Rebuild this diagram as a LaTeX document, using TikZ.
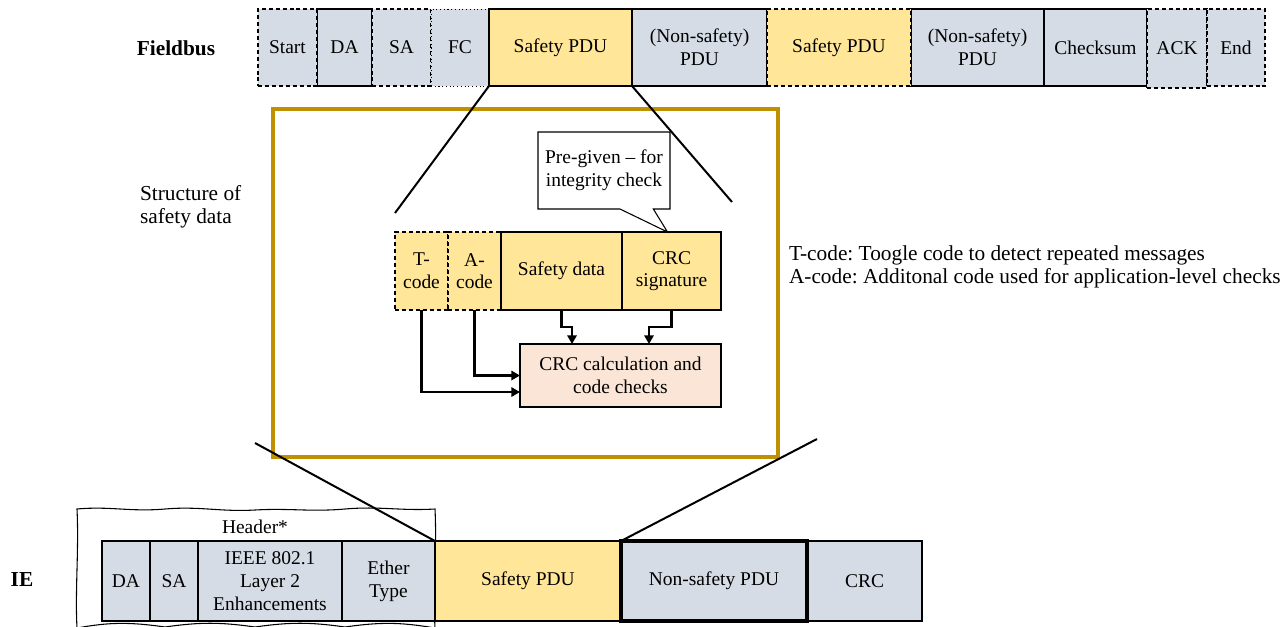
\documentclass[tikz,border=0pt]{standalone}
\usepackage{fontspec}
\setmainfont{Liberation Serif}
\usepackage{tikz}
\usetikzlibrary{arrows.meta,shapes.callouts}
\definecolor{cellgray}{HTML}{D6DCE5}
\definecolor{pduyellow}{HTML}{FFE699}
\definecolor{calcpink}{HTML}{FBE5D6}
\definecolor{framegold}{HTML}{BF9000}
\tikzset{
  font={\fontsize{14.6pt}{17pt}\selectfont}}
\frenchspacing

\begin{document}
\begin{tikzpicture}[x=0.75pt,y=-0.75pt]
\tikzstyle{every node}+=[inner sep=0pt, outer sep=0pt]
\tikzstyle{cell}=[draw, line width=0.8pt, fill=cellgray, align=center]
\tikzstyle{dashcell}=[dash pattern=on 3pt off 2.2pt]
\tikzstyle{biglabel}=[font={\fontsize{16pt}{17pt}\selectfont}]
\tikzstyle{rowlabel}=[font={\fontsize{16pt}{17pt}\selectfont\bfseries}]
\tikzstyle{zoomline}=[line width=1.5pt]
\tikzstyle{flow}=[line width=1.6pt, -{Triangle[length=6.5pt,width=7pt]}]
\useasboundingbox (0,0) rectangle (1288,626);
% fieldbus frame
\node[rowlabel] (fbus) at (176,48) {Fieldbus};
\node[cell, minimum width=41.25pt, minimum height=57.75pt] (fda) at (344.5,47.5) {DA};
\node[cell, dashcell, minimum width=44.25pt, minimum height=57.75pt] (fstart) at (287.5,47.5) {Start};
\node[cell, dashcell, minimum width=44.25pt, minimum height=57.75pt] (fsa) at (401.5,47.5) {SA};
\node[cell, dotted, line width=0.6pt, minimum width=43.5pt, minimum height=57.75pt] (ffc) at (460,47.5) {FC};
\node[cell, fill=pduyellow, minimum width=107.25pt, minimum height=57.75pt] (fspdu) at (560.5,47.5) {Safety PDU};
\node[cell, minimum width=101.25pt, minimum height=57.75pt] (fns1) at (699.5,47.5) {(Non-safety)\\PDU};
\node[cell, minimum width=99.75pt, minimum height=57.75pt] (fns2) at (977.5,47.5) {(Non-safety)\\PDU};
\node[cell, dashcell, fill=pduyellow, minimum width=108pt, minimum height=57.75pt] (fspdu2) at (839,47.5) {Safety PDU};
\node[cell, minimum width=77.25pt, minimum height=57.75pt] (fcs) at (1095.5,47.5) {Checksum};
\node[cell, dashcell, minimum width=45pt, minimum height=59.25pt] (fack) at (1177,48.5) {ACK};
\node[cell, dashcell, minimum width=43.5pt, minimum height=57.75pt] (fend) at (1236,47.5) {End};
% safety data structure
\node[draw=framegold, line width=3pt, minimum width=378.75pt, minimum height=261pt] (frame) at (525.5,283) {};
\node[biglabel, anchor=west, align=left] (struct) at (140,207) {Structure of\\safety data};
\node[cell, dashcell, fill=pduyellow, minimum width=39.75pt, minimum height=58.5pt] (tcode) at (421.5,271) {T-\\code};
\node[cell, dashcell, fill=pduyellow, minimum width=39.75pt, minimum height=58.5pt] (acode) at (474.5,271) {A-\\code};
\node[cell, fill=pduyellow, minimum width=90.75pt, minimum height=58.5pt] (sdata) at (561.5,271) {Safety data};
\node[cell, fill=pduyellow, minimum width=74.25pt, minimum height=58.5pt] (crcsig) at (671.5,271) {CRC\\signature};
\node[draw, fill=white, line width=0.8pt, align=center, rectangle callout,
  callout absolute pointer={([xshift=-3pt]crcsig.north)}, callout pointer width=25pt,
  minimum width=99pt, minimum height=57.75pt] (pregiven) at (604,170.5) {Pre-given -- for\\integrity check};
\node[cell, fill=calcpink, minimum width=150.75pt, minimum height=47.25pt] (calc) at (620.5,375.5) {CRC calculation and\\code checks};
\draw[flow] (sdata.south) -- ++(0,17) -| ([xshift=39pt]calc.north west);
\draw[flow] (crcsig.south) -- ++(0,17) -| ([xshift=96.75pt]calc.north west);
\draw[flow] (acode.south) |- (calc.west);
\draw[flow] (tcode.south) |- ([yshift=-12.4pt]calc.west);
\node[biglabel, anchor=west, align=left] (legend) at (789,267) {T-code: Toogle code to detect repeated messages\\A-code: Additonal code used for application-level checks};
% industrial ethernet frame
\node[rowlabel] (ie) at (22,580) {IE};
\draw[line width=0.8pt] (77,628) .. controls (75,590) and (79,550) .. (77,509)
  .. controls (110,506) and (130,512) .. (165,509) .. controls (200,506) and (220,512) .. (255,510)
  .. controls (290,508) and (310,512) .. (345,509) .. controls (380,506) and (400,511) .. (435,509)
  .. controls (437,550) and (433,590) .. (435,628)
  .. controls (400,622) and (380,622) .. (345,627) .. controls (310,622) and (290,622) .. (255,627)
  .. controls (220,622) and (200,622) .. (165,627) .. controls (130,622) and (110,622) .. (77,628);
\node (hdrlbl) at (255,527) {Header*};
\node[cell, minimum width=36pt, minimum height=60pt] (ida) at (126,581) {DA};
\node[cell, minimum width=36pt, minimum height=60pt] (isa) at (174,581) {SA};
\node[cell, minimum width=108pt, minimum height=60pt] (iieee) at (270,581) {IEEE 802.1\\Layer 2\\Enhancements};
\node[cell, minimum width=69.75pt, minimum height=60pt] (ieth) at (388.5,581) {Ether\\Type};
\node[cell, fill=pduyellow, minimum width=139.5pt, minimum height=60pt] (ispdu) at (528,581) {Safety PDU};
\node[cell, minimum width=86.25pt, minimum height=60pt] (icrc) at (864.5,581) {CRC};
\node[cell, line width=3pt, minimum width=139.5pt, minimum height=60pt] (ins) at (714,581) {Non-safety PDU};
% zoom lines
\coordinate (zl1) at (395,213);
\coordinate (zr1) at (732,202);
\coordinate (zl2) at (255,443);
\coordinate (zr2) at (817,439);
\draw[zoomline] (fspdu.south west) -- (zl1);
\draw[zoomline] (fspdu.south east) -- (zr1);
\draw[zoomline] (zl2) -- (ieth.north east);
\draw[zoomline] (zr2) -- (ins.north west);
\end{tikzpicture}
\end{document}
